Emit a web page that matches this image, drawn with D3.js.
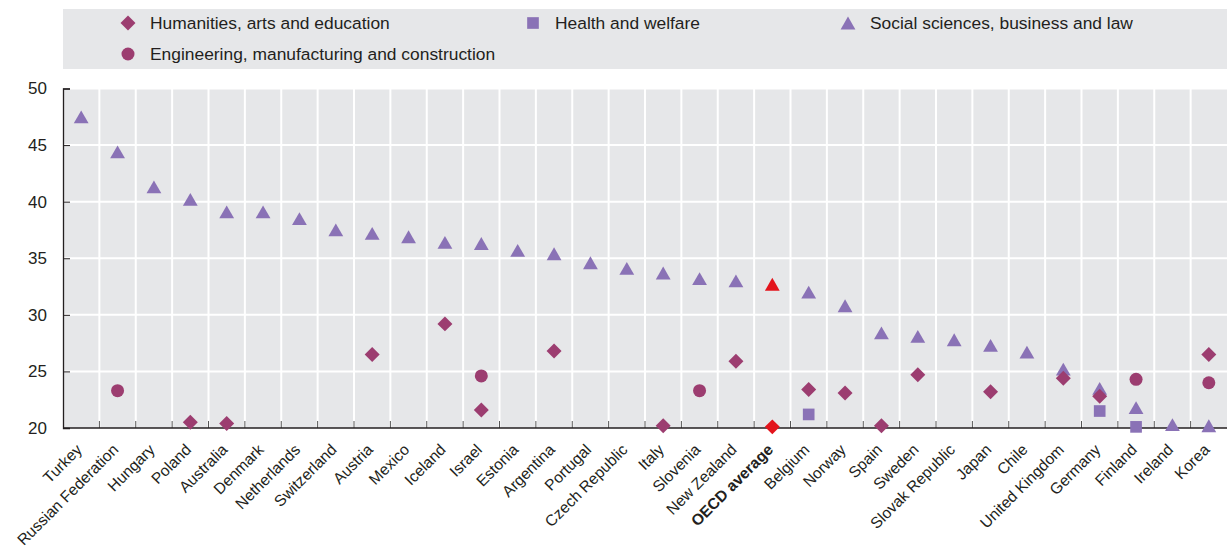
<!DOCTYPE html>
<html>
<head>
<meta charset="utf-8">
<script src="https://cdn.jsdelivr.net/npm/d3@7"></script>
<style>
  body { margin: 0; background: #fff; }
  svg text { font-family: "Liberation Sans", Arial, sans-serif; fill: #231f20; }
</style>
</head>
<body>
<svg width="1227" height="551"></svg>
<script>
var countries = ["Turkey", "Russian Federation", "Hungary", "Poland", "Australia", "Denmark",
    "Netherlands", "Switzerland", "Austria", "Mexico", "Iceland", "Israel", "Estonia",
    "Argentina", "Portugal", "Czech Republic", "Italy", "Slovenia", "New Zealand",
    "OECD average", "Belgium", "Norway", "Spain", "Sweden", "Slovak Republic", "Japan",
    "Chile", "United Kingdom", "Germany", "Finland", "Ireland", "Korea"];

var social = [47.5, 44.4, 41.3, 40.2, 39.1, 39.1, 38.5, 37.5, 37.2, 36.9, 36.4, 36.3, 35.7,
    35.4, 34.6, 34.1, 33.7, 33.2, 33.0, 32.7, 32.0, 30.8, 28.4, 28.1, 27.8, 27.3,
    26.7, 25.2, 23.5, 21.8, 20.3, 20.2];

var humanities = [null, null, null, 20.5, 20.4, null, null, null, 26.5, null, 29.2, 21.6, null,
    26.8, null, null, 20.2, null, 25.9, 20.1, 23.4, 23.1, 20.2, 24.7, null, 23.2,
    null, 24.4, 22.8, null, null, 26.5];

var health = [null, null, null, null, null, null, null, null, null, null, null, null, null,
    null, null, null, null, null, null, null, 21.2, null, null, null, null, null,
    null, null, 21.5, 20.1, null, null];

var engineering = [null, 23.3, null, null, null, null, null, null, null, null, null, 24.6, null,
    null, null, null, null, 23.3, null, null, null, null, null, null, null, null,
    null, null, null, 24.3, null, 24.0];

var yTicks = [20, 25, 30, 35, 40, 45, 50];

var legendItems = [
    {name: "Humanities, arts and education", key: "humanities"},
    {name: "Health and welfare", key: "health"},
    {name: "Social sciences, business and law", key: "social"},
    {name: "Engineering, manufacturing and construction", key: "engineering"}
];

(function () {
    var svg = d3.select("svg"),
        plotLeft = 63, plotRight = 1227, plotTop = 88.5, plotBottom = 428;

    var purple = "#8a72b6", plum = "#9c3d70", red = "#e3141c", bg = "#e6e7e9";

    var styles = {
        humanities: {shape: "diamond", color: plum},
        health: {shape: "square", color: purple},
        social: {shape: "triangle", color: purple},
        engineering: {shape: "circle", color: plum}
    };

    var scaleX = d3.scaleBand().domain(countries).range([plotLeft, plotRight]);
    var scaleY = d3.scaleLinear().domain([20, 50]).range([plotBottom, plotTop]);

    // triangle centred on its bounding box, not its centroid
    var boxTriangle = {
        draw: function (context, size) {
            var side = Math.sqrt(size * 4 / Math.sqrt(3)),
                h = side * Math.sqrt(3) / 2;
            context.moveTo(0, -h / 2);
            context.lineTo(side / 2, h / 2);
            context.lineTo(-side / 2, h / 2);
            context.closePath();
        }
    };

    function symbolPath(shape) {
        if (shape === "triangle") return d3.symbol().type(boxTriangle).size(95)();
        if (shape === "square") return d3.symbol().type(d3.symbolSquare).size(136)();
        if (shape === "diamond") return d3.symbol().type(d3.symbolSquare).size(112)();
        return d3.symbol().type(d3.symbolCircle).size(133)();
    }
    function symbolRotate(shape) {
        return shape === "diamond" ? " rotate(45)" : "";
    }

    // legend box
    var legend = svg.append("g");
    legend.append("rect")
        .attr("x", plotLeft).attr("y", 9)
        .attr("width", plotRight - plotLeft).attr("height", 60)
        .attr("fill", bg);

    var legendPos = [[128, 23], [533, 23], [848, 23], [128, 54]];
    legendItems.forEach(function (item, i) {
        var st = styles[item.key];
        legend.append("path")
            .attr("d", symbolPath(st.shape))
            .attr("transform", "translate(" + legendPos[i][0] + "," + legendPos[i][1] + ")" + symbolRotate(st.shape))
            .attr("fill", st.color);
        legend.append("text")
            .attr("x", legendPos[i][0] + 22)
            .attr("y", legendPos[i][1])
            .attr("dy", "0.35em")
            .style("font-size", "17.4px")
            .text(item.name);
    });

    // plot background
    svg.append("rect")
        .attr("x", plotLeft).attr("y", plotTop)
        .attr("width", plotRight - plotLeft).attr("height", plotBottom - plotTop)
        .attr("fill", bg);

    // grid
    var grid = svg.append("g");
    grid.selectAll(".hgrid").data(yTicks.slice(1)).enter().append("line")
        .attr("x1", plotLeft).attr("x2", plotRight)
        .attr("y1", function (d) { return scaleY(d); })
        .attr("y2", function (d) { return scaleY(d); })
        .attr("stroke", "#fff").attr("stroke-width", 2);
    grid.selectAll(".vgrid").data(countries.slice(1)).enter().append("line")
        .attr("x1", function (d) { return scaleX(d); })
        .attr("x2", function (d) { return scaleX(d); })
        .attr("y1", plotTop).attr("y2", plotBottom)
        .attr("stroke", "#fff").attr("stroke-width", 2);

    // y axis
    var axisY = svg.append("g")
        .attr("transform", "translate(" + plotLeft + ",0)")
        .call(d3.axisRight(scaleY).tickValues(yTicks).tickSize(7).tickFormat(d3.format("d")));
    axisY.select(".domain").attr("stroke", "#231f20").attr("stroke-width", 1.3);
    axisY.selectAll(".tick line").attr("stroke", "#231f20");
    axisY.selectAll(".tick text")
        .attr("x", -16).attr("text-anchor", "end")
        .style("font-size", "17px")
        .style("font-family", "'Liberation Sans', sans-serif")
        .attr("fill", "#231f20");

    // x axis ticks at band boundaries
    var axisX = svg.append("g");
    axisX.selectAll(".xt").data(countries.slice(1)).enter().append("line")
        .attr("x1", function (d) { return scaleX(d); })
        .attr("x2", function (d) { return scaleX(d); })
        .attr("y1", plotBottom - 7).attr("y2", plotBottom)
        .attr("stroke", "#555").attr("stroke-width", 1);
    axisX.append("line")
        .attr("x1", plotLeft).attr("x2", plotRight)
        .attr("y1", plotBottom).attr("y2", plotBottom)
        .attr("stroke", "#231f20").attr("stroke-width", 1.5);

    axisX.selectAll(".xl").data(countries).enter().append("text")
        .attr("transform", function (d) {
            return "translate(" + (scaleX(d) + scaleX.bandwidth() / 2 - 6) + "," + (plotBottom + 15) + ") rotate(-45)";
        })
        .attr("text-anchor", "end")
        .attr("dy", "0.7em")
        .style("font-size", "15.6px")
        .style("font-weight", function (d) { return d === "OECD average" ? "bold" : "normal"; })
        .text(function (d) { return d; });

    // markers
    var series = [
        {key: "social", values: social},
        {key: "health", values: health},
        {key: "humanities", values: humanities},
        {key: "engineering", values: engineering}
    ];
    var marks = svg.append("g");
    series.forEach(function (s) {
        var st = styles[s.key];
        var pts = countries.map(function (c, i) { return {country: c, value: s.values[i]}; })
            .filter(function (d) { return d.value !== null; });
        marks.selectAll(".m-" + s.key).data(pts).enter().append("path")
            .attr("class", "m-" + s.key)
            .attr("d", symbolPath(st.shape))
            .attr("transform", function (d) {
                return "translate(" + (scaleX(d.country) + scaleX.bandwidth() / 2) + "," + scaleY(d.value) + ")" + symbolRotate(st.shape);
            })
            .attr("fill", function (d) { return d.country === "OECD average" ? red : st.color; });
    });
})();
</script>
</body>
</html>
